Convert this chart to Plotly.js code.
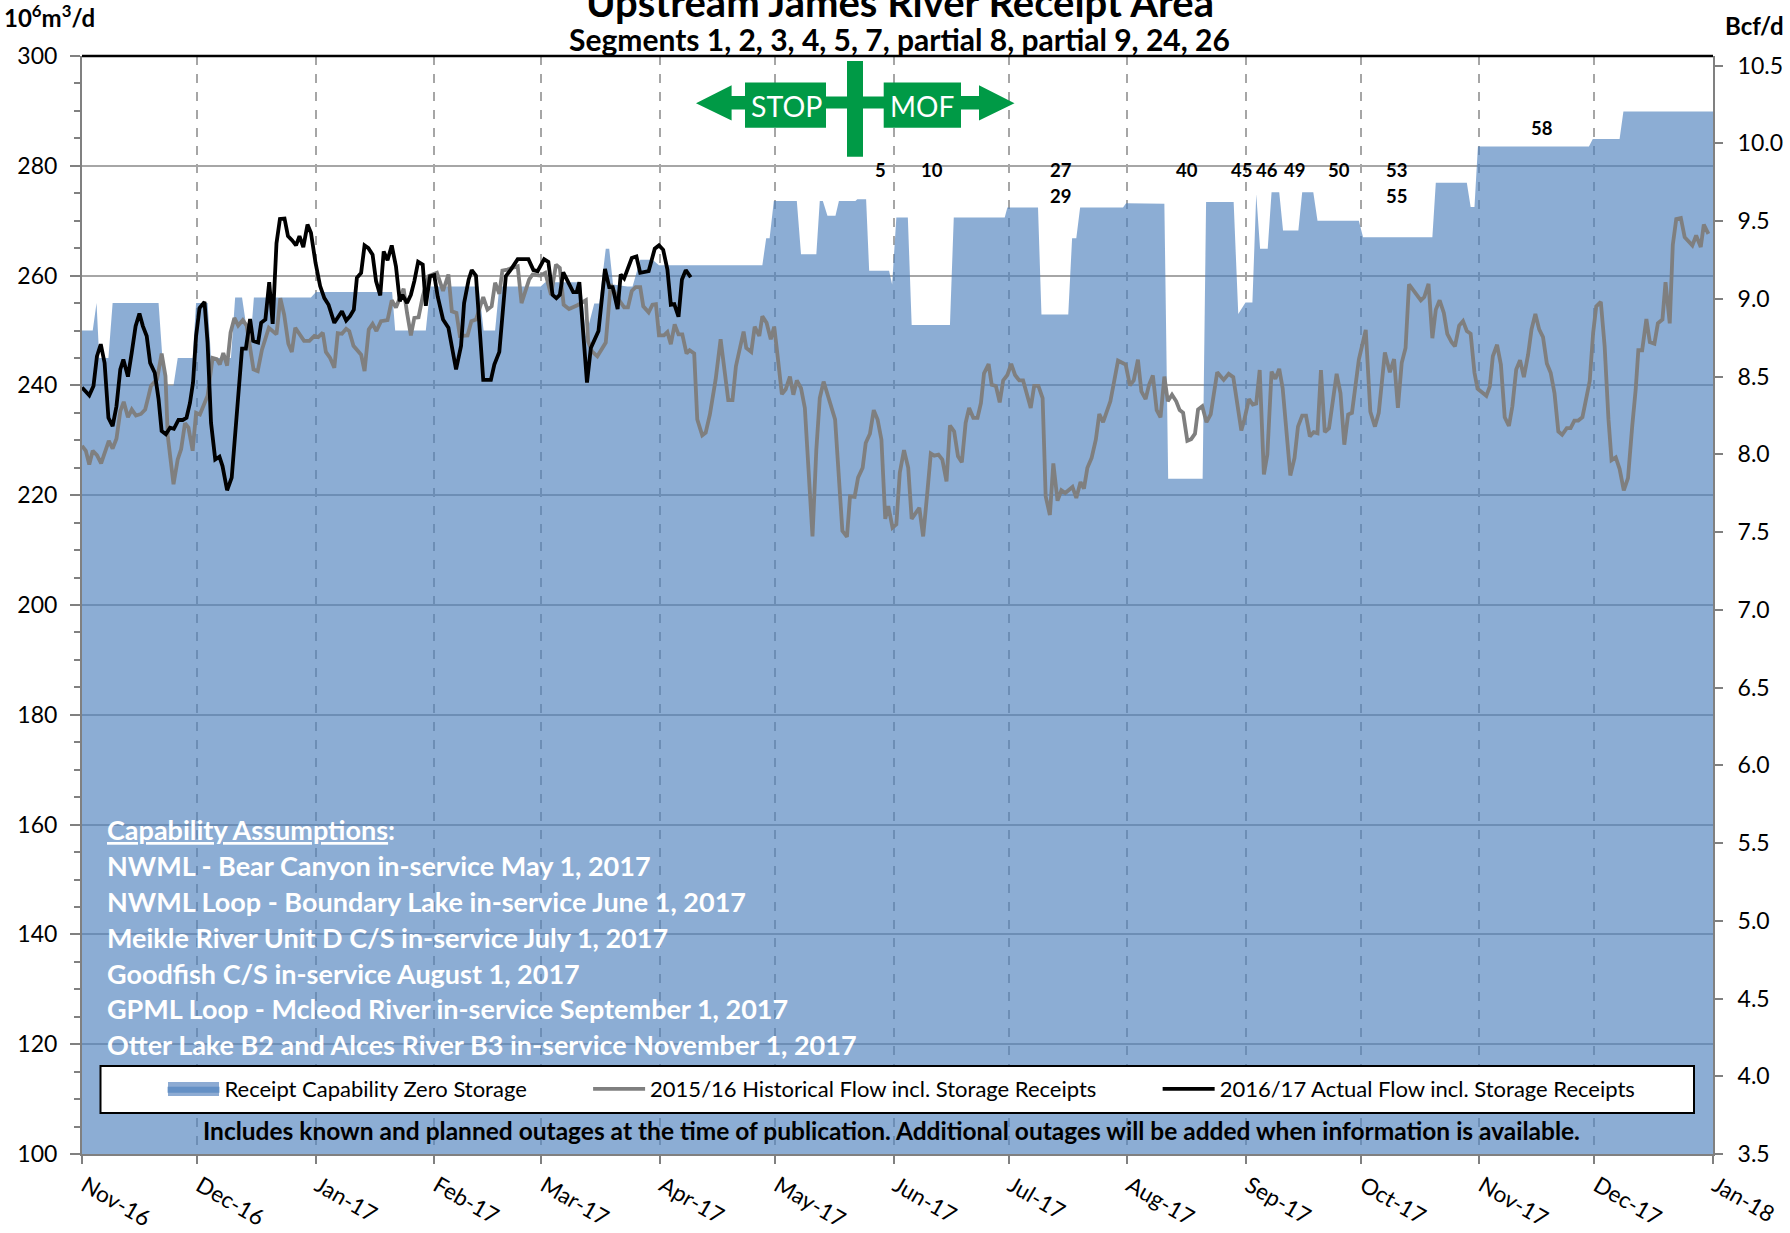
<!DOCTYPE html>
<html><head><meta charset="utf-8">
<script src="https://cdn.plot.ly/plotly-3.0.1.min.js"></script>
<style>html,body{margin:0;padding:0;background:#fff}#c{width:1790px;height:1233px}</style>
</head><body><div id="c"></div>
<script>
const monthTicks=[0,30,61,92,120,151,181,212,242,273,304,334,365,395,426];
const monthLabels=["Nov-16","Dec-16","Jan-17","Feb-17","Mar-17","Apr-17","May-17","Jun-17","Jul-17","Aug-17","Sep-17","Oct-17","Nov-17","Dec-17","Jan-18"];
const capDays=[0,2.8,3.8,4.5,6.9,8,20,21,22.4,23.9,25,28.9,29.8,32.8,33.7,38.9,40,41.8,43.5,44,44.9,59.8,61.1,81,81.8,89.8,91,103.6,104.9,107.9,109,119.8,121,130.3,131.6,133.8,135.1,136.8,137.7,138.7,142.5,143.8,145.8,149,150.7,177.7,178.7,179.6,180.7,186.7,187.8,191.8,192.7,193.5,194.7,196.8,197.7,202,202.5,204.8,205.6,210.8,211.6,212.7,215.7,216.7,226.7,227.7,241,241.7,249.7,250.6,257.6,258.6,259.7,260.7,271.9,272.7,282.7,283.7,292.7,293.6,300.8,302,303.9,305.7,306.7,307.7,309.7,310.7,312.7,313.7,317.7,318.7,321.6,322.7,333.5,334.6,352.7,353.6,361.7,362.7,363.7,364.6,393.6,394.6,401.6,402.6,426];
const capVals=[250,250,255,245,245,255,255,245,240,240,245,245,255,255,245,245,256,256,248,248,256,256,257,257,250,250,258,258,250,250,258,258,258.8,258.8,249,254.9,254.9,264.9,264.9,258.4,258,258,262.9,262.9,261.9,261.9,266.8,266.8,273.6,273.6,263.9,263.9,273.6,273.6,270.9,270.9,273.6,273.6,273.9,273.9,260.9,260.9,258.4,270.6,270.6,251,251,270.6,270.6,272.4,272.4,252.9,252.9,266.8,266.8,272.4,272.4,273.2,273.1,223,223,273.4,273.4,253,255.1,255.1,274.8,264.9,264.9,275.2,275.2,268.2,268.2,275.2,275.2,270,270,267,267,276.9,276.9,272.5,272.5,283.5,283.5,284.9,284.9,289.9,289.9];
const histDays=[0,1,1.9,2.8,3.9,5,7,8,9,10,10.9,12,13,14.1,15.4,16.5,17.4,18,19.6,20.8,21.8,22.4,23.9,25,25.9,26.9,27.8,28.9,29.8,30.8,32.8,34.1,35.2,36,36.9,37.9,38.8,39.8,40.8,42,43,44.8,45.9,47,48.8,50.8,51.8,52.8,53.9,54.8,55.7,58,59.4,60.7,61.7,62.9,63.7,64.8,65.9,66.8,67.9,69,69.8,70.9,72.9,73.8,74.9,75.9,76.9,78.1,79.8,80.9,82,84,84.9,85.9,86.8,87.9,89,90.5,92.7,94.3,95.7,96.6,97.8,98.7,100.7,101.7,102.9,104.8,105.9,107,107.9,109,109.8,111.1,113.8,114.8,116.8,117.7,119.7,121,122.5,123.8,124.8,125.8,127.2,129.4,131.6,132.2,133.2,134.6,136.8,138.1,139.9,141.6,142.6,143.6,144.6,145.8,146.6,148,149,149.9,150.7,152,152.9,153.8,154.8,155.8,156.8,157.9,158.7,159.9,160.7,162,162.9,164,165.5,166.8,168.8,169.9,170.8,172.8,173.5,174.8,175.7,176.9,177.7,178.8,179.9,180.8,181.6,182.8,183.8,184.9,185.8,186.7,187.8,188.8,190.8,191.8,192.7,193.7,196.7,197.8,198.6,199.8,200.6,201.8,202.7,203.9,204.7,205.8,206.8,207.8,208.8,209.8,210.6,211.7,212.7,213.6,214.7,215.8,216.7,218.7,219.7,220.7,221.7,222.6,223.7,224.7,225.8,226.7,227.8,228.8,229.8,230.8,231.7,232.8,233.9,234.8,235.6,236.8,237.6,238.7,239.7,240.6,241.7,242.7,243.7,244.8,245.8,247.8,248.7,249.8,250.9,251.7,252.8,253.7,254.8,255.8,256.8,258.7,259.7,260.8,261.7,262.6,263.7,264.8,265.7,266.7,268.6,269.5,270.6,272.6,273.7,274.7,275.8,276.7,277.8,278.7,279.7,280.7,281.7,282.7,283.6,284.7,285.8,286.7,287.6,288.7,289.7,290.7,291.5,292.6,293.7,294.8,296.5,298.2,299.5,300.7,302.8,303.6,304.8,305.8,306.7,307.6,308.7,309.6,310.7,311.7,312.7,313.6,315.6,316.7,317.6,318.7,319.7,320.7,321.7,322.7,323.6,324.6,325.7,327.7,328.7,329.7,330.7,331.7,333.5,335.3,336.5,337.7,338.7,340.3,341.6,342.7,343.7,344.7,345.7,346.6,349.7,350.6,351.7,352.7,353.6,354.6,355.7,356.6,357.7,358.6,359.7,360.7,361.7,362.7,363.7,364.5,366.8,367.7,368.5,369.6,370.6,371.6,372.7,373.6,374.6,375.6,376.6,377.7,378.6,379.6,380.6,381.6,382.6,383.6,384.6,385.6,386.6,387.8,388.8,389.8,390.8,391.9,392.9,393.8,394.7,395.5,396.7,397.7,398.7,399.5,400.6,401.6,402.7,403.8,404.9,405.8,406.5,407.5,408.6,409.5,410.7,411.6,412.8,413.6,414.7,415.5,416.4,417.6,418.6,420.6,421.6,422.8,423.6,424.8];
const histVals=[229,228.1,225.6,228.1,227.3,225.8,229.9,228.5,230.3,235.3,237,234.2,235.6,234.5,234.8,235.6,238.1,239.9,241.1,245.8,241.7,230.8,222,226.5,228.4,233.1,232.3,228.1,235,234.7,238.1,245,244.8,243.8,245.9,243.6,249.6,252.3,250.9,251.9,250.9,242.9,242.6,246.5,250.5,249.3,255.9,252.9,247.6,246.1,250.5,248.1,248.1,249,248.8,249.6,246.1,245,243.2,249.5,249.4,250.3,249.9,247.2,245.6,242.6,250.2,251.2,249.9,251.7,251.9,255.5,254.2,257.6,253.2,249.1,252.3,252.4,256.2,259.9,260.5,257.2,260.2,253.5,253.2,249,249.1,251.7,252,256.1,253.8,254.4,258.7,256.7,260.9,261.1,261.7,255,259.3,260.2,260,260.5,256.5,262,261.4,254.7,253.9,254.6,255.5,248,246.2,245.3,247.8,258.4,255.9,254.2,254.2,257.2,257.9,257.9,254.4,253.3,254.7,254.8,249.1,249.1,249.7,247.5,251.1,249.3,249.3,245.8,246.4,245.8,233.8,230.9,231.4,234.7,241.1,248.4,237.3,237.3,243.5,249.8,246.8,246.1,250.7,249,252.6,251.4,248.4,250.7,245.9,238.4,239.3,241.6,238.3,240.9,239.5,235.9,212.5,228.3,237.7,240.7,233.8,221.6,213.5,212.4,219.8,219.7,223.2,225,229.5,231.2,235.5,233.8,230.1,215.7,218,214.1,214.7,224.1,228.2,225,215.7,217.7,212.5,219.8,227.6,227.2,227.4,226.5,222.5,232.7,231.6,227.1,226,233.2,235.9,234.1,234.1,236.8,242.2,243.9,240.1,239.9,236.9,240.9,241.9,243.9,241.9,240.9,240.9,235.9,239.9,239.9,237.7,219.8,216.4,225.8,219,220.9,220.4,221.5,219.5,222.4,221.2,225,226.8,230.1,234.8,233.3,237.1,240.4,244.5,243.8,240,240.9,244.7,238.9,237.5,240.1,241.8,235.5,234.2,241.6,237.1,238.3,237.1,235.5,235,229.9,230.2,231.2,235.6,236.2,233.3,234.7,242.4,241,242.1,241.5,231.8,233.8,237.5,236.5,236.7,242.8,223.8,227.4,242.5,241.2,243,239.5,223.6,226.8,232.5,234.5,234.5,230.7,231.5,231.3,242.8,231.5,232.2,242.1,238.6,229.2,234.7,235,244.7,250.1,235.2,232.5,235,246,242.4,244.8,235.9,244.1,246.8,258.4,255.5,256.1,258.5,248.6,253.8,255.5,253.2,249.4,247.9,247.1,250.9,251.7,249.9,249.4,242.3,239.4,238.1,239.8,245.3,247.4,243.8,234.2,232.6,236.2,242.9,244.6,241.5,245.6,250.2,253,250.2,248.8,244,242.3,238.6,231.6,231,232.2,232.2,233.6,233.6,234.2,237.4,240.8,249.6,254.4,255.2,247.1,233.8,226.4,226.9,224.8,220.9,223.1,232.6,239.2,246.4,246.4,252.1,247.9,247.6,251.3,252,258.8,251.3,265.6,270.3,270.5,267,265.5,267.3,265.2,269.3,267.6];
const actDays=[0,1.9,3,3.9,4.9,5.9,6.9,8,9,10,10.8,12,13,14,15,15.9,16.9,17.8,19,20,20.8,21.9,23,24,25.2,26.3,27.3,28.2,29,29.8,30.7,32,32.8,33.7,34.8,35.9,36.7,37.9,39.1,40.2,41,41.8,42.8,43.9,44.7,46,46.8,47.9,48.9,49.8,50.8,51.7,52.9,53.8,54.9,55.9,56.8,57.8,58.9,59.8,61,62.2,63.3,64.4,65.9,67.9,69,70,71,71.8,72.9,73.8,74.8,75.9,76.8,77.9,78.8,79.8,80.9,82,83,83.7,84.9,85.9,86.8,87.8,89,89.8,90.9,92,92.9,94.3,95.7,97.7,99,99.8,101,101.8,102.9,104.8,106.8,107.7,109,109.8,110.7,112,113.8,116.6,117.9,119,120.7,121.8,122.9,123.9,124.8,125.7,126.8,128.3,129.2,129.9,131.9,132.9,134.9,136.6,137.7,138.6,139.9,140.7,141.6,142.5,143.6,144.8,145.8,148,149.6,150.7,151.8,152.9,153.8,154.7,155.8,156.7,157.7,159];
const actVals=[239.6,238.2,239.9,245.3,247.5,244.1,234.1,232.6,236.2,242.9,244.7,241.6,246,250.8,253.1,250.8,249,244.1,242.3,237.5,231.7,231.1,232.3,232.1,233.7,233.7,234.1,236.8,240.5,249,254.1,255.2,247.8,233.2,226.5,227,225.3,220.9,223.2,232.6,240.5,246.7,246.7,252.1,248.1,247.8,251.4,252,258.8,251.2,265.9,270.3,270.4,267.2,266.4,265.5,267.2,265.2,269.3,267.8,262.3,258.1,255.9,254.7,251.4,253.5,251.8,252.6,253.8,259.6,260.5,265.5,265,263.8,259,256.4,264.4,262.8,265.5,261.7,255.3,256.5,255,256.5,259,262.5,262,254.5,259.9,260.1,256.2,252,250.5,242.9,247.2,255,259.3,261,260,241,241,243.8,246.1,252.6,259.9,261.1,263,263,261,260.8,263,262.5,256.5,255.9,256.5,260.6,259,257,257,258.8,240.5,246.8,249.9,261.2,257.9,257.9,253.9,260.2,259.5,261.4,263.2,263.5,260.5,260.8,264.9,265.5,264.7,261.1,254.7,254.8,252.5,259.3,261,259.7];
const outageLabels=["5","10","27","29","40","45","46","49","50","53","55","58"];
const outageColumns=[880,931.6,1060.6,1060.6,1187,1241,1267,1294.6,1339,1396,1396,1542];
const outageRows=[170,170,170,196,170,170,170,170,170,170,196,128];
const assumptions=["<u>Capability Assumptions</u>:","NWML - Bear Canyon in-service May 1, 2017","NWML Loop - Boundary Lake in-service June 1, 2017","Meikle River Unit D C/S in-service July 1, 2017","Goodfish C/S in-service August 1, 2017","GPML Loop - Mcleod River in-service September 1, 2017","Otter Lake B2 and Alces River B3 in-service November 1, 2017"];
const assumptionRows=[830,866,902,938,974,1009,1045];

const FONT='Lato,"Noto Sans",sans-serif';
const L=82,R=1713,T=56.4,B=1154;
const px=x=>(x-L)/(R-L), py=y=>1-(y-T)/(B-T);
const ann=(x,y,text,size,color,opts)=>Object.assign({xref:'paper',yref:'paper',x:px(x),y:py(y),text,showarrow:false,xanchor:'center',yanchor:'middle',font:{family:FONT,size,color:color||'#000'}},opts||{});
const poly=pts=>{return {type:'path',xref:'paper',yref:'paper',layer:'above',fillcolor:'#009A46',line:{width:0},
  path:'M'+pts.map(p=>px(p[0])+','+py(p[1])).join('L')+'Z'};};
const rect=(x0,y0,x1,y1)=>poly([[x0,y0],[x1,y0],[x1,y1],[x0,y1]]);
const NB='\u00a0';
const traces=[
 {x:capDays,y:capVals,type:'scatter',mode:'lines',name:'Receipt Capability Zero Storage'+NB.repeat(10),fill:'tozeroy',fillcolor:'rgba(79,129,189,0.65)',line:{width:0,color:'rgba(79,129,189,0.65)'},hoverinfo:'skip'},
 {x:histDays,y:histVals,type:'scatter',mode:'lines',name:'2015/16 Historical Flow incl. Storage Receipts'+NB.repeat(10),line:{color:'#7f7f7f',width:3.8},hoverinfo:'skip'},
 {x:actDays,y:actVals,type:'scatter',mode:'lines',name:'2016/17 Actual Flow incl. Storage Receipts',line:{color:'#000',width:3.8},hoverinfo:'skip'},
 {x:[0],y:[3.5],yaxis:'y2',type:'scatter',mode:'lines',showlegend:false,hoverinfo:'skip',line:{width:0}}
];
const annotations=[
 ann(900,39,'<b>Segments 1, 2, 3, 4, 5, 7, partial 8, partial 9, 24, 26</b>',30),
 ann(2,16,'<b>10<sup>6</sup>m<sup>3</sup>/d</b>',24,'#000',{xanchor:'left'}),
 ann(1786,26,'<b>Bcf/d</b>',24,'#000',{xanchor:'right'}),
 ann(891,1131,'<b>Includes known and planned outages at the time of publication. Additional outages will be added when information is available.</b>',24.5),
 ann(786,106,'STOP',28.5,'#fff'),
 ann(922,106,'MOF',28,'#fff')
];
outageLabels.forEach((t,i)=>annotations.push(ann(outageColumns[i],outageRows[i],'<b>'+t+'</b>',18.5)));
assumptions.forEach((t,i)=>annotations.push(ann(105,assumptionRows[i],'<b>'+t+'</b>',27,'#fff',{xanchor:'left'})));
const shapes=[
 rect(745,83,826,128),rect(883.7,83,961,128),rect(847,61.4,863,157),
 rect(826,97,884,109),
 poly([[696,103.6],[731.6,85.7],[731.6,96.5],[746,96.5],[746,110],[731.6,110],[731.6,121]]),
 poly([[1014.5,103.6],[979,85.7],[979,96.5],[960,96.5],[960,110],[979,110],[979,121]]),
 {type:'line',xref:'paper',yref:'paper',layer:'above',x0:0,x1:1,y0:1,y1:1,line:{color:'#000',width:2.5}},
 {type:'rect',xref:'paper',yref:'paper',layer:'above',x0:px(100.5),x1:px(1694),y0:py(1066),y1:py(1113),fillcolor:'#fff',line:{color:'#000',width:2}},
 {type:'rect',xref:'paper',yref:'paper',layer:'above',x0:px(168),x1:px(219),y0:py(1082),y1:py(1096),fillcolor:'#8DABD3',line:{width:0}}
];
const layout={
 width:1790,height:1233,autosize:false,paper_bgcolor:'#fff',plot_bgcolor:'#fff',showlegend:true,hovermode:false,
 margin:{l:L,r:1790-R,t:T,b:1233-B,pad:0},font:{family:FONT,color:'#000'},
 title:{text:'<b>Upstream James River Receipt Area</b>',x:900/1790,xanchor:'center',y:0.9862,yanchor:'bottom',font:{family:FONT,size:40,color:'#000'}},
 xaxis:{range:[0,426],tickmode:'array',tickvals:monthTicks,ticktext:monthLabels,tickangle:30,ticks:'outside',ticklen:8,tickwidth:2,tickcolor:'#808080',
  showline:true,linecolor:'#808080',linewidth:2,showgrid:true,gridcolor:'#a6a6a6',gridwidth:2,griddash:'dash',zeroline:false,tickfont:{family:FONT,size:22.5,color:'#000'},ticklabelstandoff:0,ticklabelshift:3},
 yaxis:{range:[100,300],dtick:20,tick0:100,ticks:'outside',ticklen:10,tickwidth:2,tickcolor:'#808080',showline:true,linecolor:'#808080',linewidth:2,showgrid:true,gridcolor:'#a6a6a6',gridwidth:2,zeroline:false,ticklabelstandoff:8,
  minor:{dtick:5,ticks:'outside',ticklen:6,tickwidth:2,tickcolor:'#808080',showgrid:false},tickfont:{family:FONT,size:23,color:'#000'}},
 yaxis2:{range:[3.5,10.5617],overlaying:'y',side:'right',tick0:3.5,dtick:0.5,tickformat:'.1f',ticks:'outside',ticklen:8,tickwidth:2,tickcolor:'#808080',showline:true,linecolor:'#808080',linewidth:2,showgrid:false,zeroline:false,ticklabelstandoff:10,tickfont:{family:FONT,size:23,color:'#000'}},
 legend:{orientation:'h',x:px(162.5),xanchor:'left',y:py(1089),yanchor:'middle',bgcolor:'rgba(0,0,0,0)',borderwidth:0,itemwidth:52,traceorder:'normal',font:{family:FONT,size:22,color:'#000'}},
 annotations,shapes
};
Plotly.newPlot('c',traces,layout,{displayModeBar:false,responsive:false});
</script></body></html>
